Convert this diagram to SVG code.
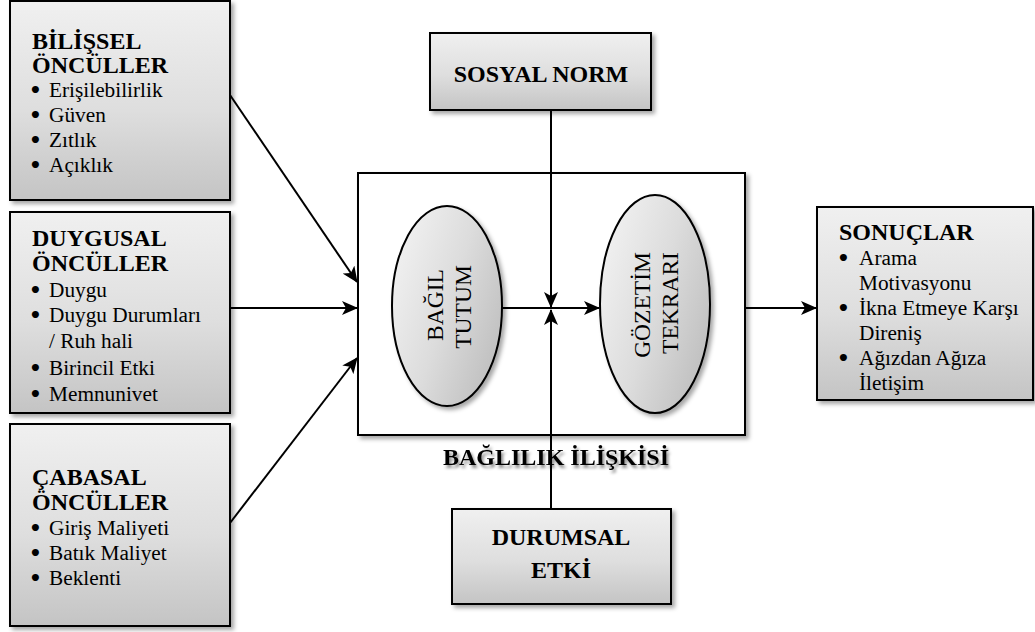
<svg xmlns="http://www.w3.org/2000/svg" width="1035" height="632" viewBox="0 0 1035 632">
  <defs>
    <linearGradient id="boxFill" x1="0" y1="0" x2="0" y2="1">
      <stop offset="0" stop-color="#f0f0f0"/>
      <stop offset="0.55" stop-color="#dedede"/>
      <stop offset="1" stop-color="#c4c4c4"/>
    </linearGradient>
    <linearGradient id="ovalFill" x1="0" y1="0.2" x2="1" y2="0.8">
      <stop offset="0" stop-color="#f2f2f2"/>
      <stop offset="0.5" stop-color="#dcdcdc"/>
      <stop offset="1" stop-color="#bdbdbd"/>
    </linearGradient>
    <filter id="shadow" x="-10%" y="-10%" width="125%" height="130%">
      <feDropShadow dx="3" dy="3" stdDeviation="2" flood-color="#000" flood-opacity="0.35"/>
    </filter>
    <filter id="textShadow" x="-5%" y="-30%" width="115%" height="180%">
      <feDropShadow dx="2" dy="3" stdDeviation="1.8" flood-color="#000" flood-opacity="0.45"/>
    </filter>
    <marker id="arrow" viewBox="0 0 16 14" refX="15" refY="7" markerWidth="16" markerHeight="14" markerUnits="userSpaceOnUse" orient="auto">
      <path d="M0,0 L16,7 L0,14 L4,7 z" fill="#000"/>
    </marker>
  </defs>
  <style>
    .box { fill: url(#boxFill); stroke: #000; stroke-width: 2; filter: url(#shadow); }
    .frame { fill: #fff; stroke: #000; stroke-width: 2; filter: url(#shadow); }
    .oval { fill: url(#ovalFill); stroke: #000; stroke-width: 2; filter: url(#shadow); }
    .head { font-family: "Liberation Serif", "Times New Roman", serif; font-weight: bold; font-size: 24px; fill: #000; }
    .item { font-family: "Liberation Serif", "Times New Roman", serif; font-size: 21.3px; fill: #000; }
    .dot { font-family: "DejaVu Sans", sans-serif; font-weight: bold; font-size: 20px; }
    .oval-text { font-family: "Liberation Serif", "Times New Roman", serif; font-size: 23.5px; fill: #000; text-anchor: middle; }
    .mid { text-anchor: middle; }
    .link { fill: none; stroke: #000; stroke-width: 2; }
    .arrowed { marker-end: url(#arrow); }
  </style>

  <rect width="1035" height="632" fill="#fff"/>

  <!-- central frame -->
  <g id="bagliliik-iliskisi">
    <rect class="frame" x="358" y="173" width="387" height="262"/>
    <text class="head mid" x="556" y="465" filter="url(#textShadow)">BAĞLILIK İLİŞKİSİ</text>
  </g>

  <g id="bagil-tutum">
    <ellipse class="oval" cx="447" cy="306" rx="55" ry="100"/>
    <text class="oval-text" transform="translate(443 305) rotate(-90)">BAĞIL</text>
    <text class="oval-text" transform="translate(471 307) rotate(-90)">TUTUM</text>
  </g>

  <g id="gozetim-tekrari">
    <ellipse class="oval" cx="655" cy="304" rx="55" ry="109"/>
    <text class="oval-text" transform="translate(650 305) rotate(-90)">GÖZETİM</text>
    <text class="oval-text" transform="translate(678 303) rotate(-90)">TEKRARI</text>
  </g>

  <!-- input boxes -->
  <g id="bilissel-onculler">
    <rect class="box" x="10" y="1" width="220" height="199"/>
    <text class="head" x="32" y="49">BİLİŞSEL</text>
    <text class="head" x="32" y="73">ÖNCÜLLER</text>
    <text class="item" x="29" y="97"><tspan class="dot">•</tspan><tspan x="49">Erişilebilirlik</tspan></text>
    <text class="item" x="29" y="122"><tspan class="dot">•</tspan><tspan x="49">Güven</tspan></text>
    <text class="item" x="29" y="147"><tspan class="dot">•</tspan><tspan x="49">Zıtlık</tspan></text>
    <text class="item" x="29" y="172"><tspan class="dot">•</tspan><tspan x="49">Açıklık</tspan></text>
  </g>

  <g id="duygusal-onculler">
    <rect class="box" x="10" y="212" width="220" height="201"/>
    <text class="head" x="32" y="246">DUYGUSAL</text>
    <text class="head" x="32" y="271">ÖNCÜLLER</text>
    <text class="item" x="29" y="297"><tspan class="dot">•</tspan><tspan x="49">Duygu</tspan></text>
    <text class="item" x="29" y="322"><tspan class="dot">•</tspan><tspan x="49">Duygu Durumları</tspan></text>
    <text class="item" x="49" y="348">/ Ruh hali</text>
    <text class="item" x="29" y="375"><tspan class="dot">•</tspan><tspan x="49">Birincil Etki</tspan></text>
    <text class="item" x="29" y="401"><tspan class="dot">•</tspan><tspan x="49">Memnunivet</tspan></text>
  </g>

  <g id="cabasal-onculler">
    <rect class="box" x="10" y="424" width="220" height="202"/>
    <text class="head" x="32" y="485">ÇABASAL</text>
    <text class="head" x="32" y="510">ÖNCÜLLER</text>
    <text class="item" x="29" y="535"><tspan class="dot">•</tspan><tspan x="49">Giriş Maliyeti</tspan></text>
    <text class="item" x="29" y="560"><tspan class="dot">•</tspan><tspan x="49">Batık Maliyet</tspan></text>
    <text class="item" x="29" y="585"><tspan class="dot">•</tspan><tspan x="49">Beklenti</tspan></text>
  </g>

  <!-- moderators -->
  <g id="sosyal-norm">
    <rect class="box" x="430" y="33" width="221" height="77"/>
    <text class="head mid" x="541" y="82">SOSYAL NORM</text>
  </g>

  <g id="durumsal-etki">
    <rect class="box" x="452" y="509" width="219" height="95"/>
    <text class="head mid" x="561" y="545">DURUMSAL</text>
    <text class="head mid" x="561" y="578">ETKİ</text>
  </g>

  <!-- outcomes -->
  <g id="sonuclar">
    <rect class="box" x="817" y="207" width="216" height="193"/>
    <text class="head" x="839" y="240">SONUÇLAR</text>
    <text class="item" x="837" y="265"><tspan class="dot">•</tspan><tspan x="859">Arama</tspan></text>
    <text class="item" x="859" y="290">Motivasyonu</text>
    <text class="item" x="837" y="315"><tspan class="dot">•</tspan><tspan x="859">İkna Etmeye Karşı</tspan></text>
    <text class="item" x="859" y="340">Direniş</text>
    <text class="item" x="837" y="365"><tspan class="dot">•</tspan><tspan x="859">Ağızdan Ağıza</tspan></text>
    <text class="item" x="859" y="390">İletişim</text>
  </g>

  <!-- connectors -->
  <g id="connectors">
    <line class="link arrowed" x1="230" y1="95" x2="357" y2="282"/>
    <line class="link arrowed" x1="230" y1="308" x2="357" y2="308"/>
    <line class="link arrowed" x1="230" y1="523" x2="357" y2="358"/>
    <line class="link arrowed" x1="502" y1="308" x2="599" y2="308"/>
    <line class="link arrowed" x1="745" y1="308" x2="816" y2="308"/>
    <line class="link arrowed" x1="551" y1="110" x2="551" y2="307"/>
    <line class="link arrowed" x1="551" y1="509" x2="551" y2="310"/>
  </g>
</svg>
